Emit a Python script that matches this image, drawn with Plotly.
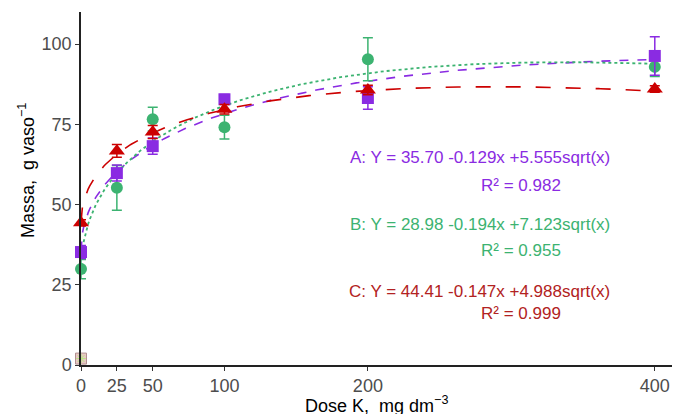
import numpy as np
import plotly.graph_objects as go

doses = [0, 25, 50, 100, 200, 400]
mass_A = [35.2, 59.8, 68.2, 82.8, 83.2, 96.3]
err_A = [2.0, 2.5, 2.5, 1.5, 3.5, 6.0]
mass_B = [29.9, 55.2, 76.6, 74.1, 95.3, 92.9]
err_B = [3.0, 7.0, 3.7, 3.7, 6.7, 3.0]
mass_C = [44.3, 66.7, 72.6, 79.7, 85.7, 86.0]
err_C = [1.0, 2.0, 2.0, 1.5, 1.5, 1.0]

# fitted model coefficients: Y = b0 + b1*x + b2*sqrt(x)
coef_A = [35.70, -0.129, 5.555]
coef_B = [28.98, -0.194, 7.123]
coef_C = [44.41, -0.147, 4.988]
r2 = {"A": 0.982, "B": 0.955, "C": 0.999}

x_title = "Dose K,  mg dm<sup>−3</sup>"
y_title = "Massa,  g vaso<sup>−1</sup>"

col_A = "#8A2BE2"
col_B = "#3CB371"
col_C = "#CC0000"
col_Ct = "#B22222"

xs = np.linspace(0, 400, 401)

def fit(c):
    return c[0] + c[1] * xs + c[2] * np.sqrt(xs)

fig = go.Figure()
fig.add_trace(go.Scatter(x=xs, y=fit(coef_A), mode="lines",
                         line=dict(color=col_A, width=1.6, dash="dash"), showlegend=False))
fig.add_trace(go.Scatter(x=xs, y=fit(coef_B), mode="lines",
                         line=dict(color=col_B, width=1.8, dash="dot"), showlegend=False))
fig.add_trace(go.Scatter(x=xs, y=fit(coef_C), mode="lines",
                         line=dict(color=col_C, width=1.6, dash="longdash"), showlegend=False))

fig.add_trace(go.Scatter(x=doses, y=mass_B, mode="markers",
                         error_y=dict(type="data", array=err_B, color=col_B, thickness=1.5, width=5),
                         marker=dict(symbol="circle", size=12, color=col_B),
                         cliponaxis=False, showlegend=False))
fig.add_trace(go.Scatter(x=doses, y=mass_A, mode="markers",
                         error_y=dict(type="data", array=err_A, color=col_A, thickness=1.5, width=5),
                         marker=dict(symbol="square", size=12, color=col_A),
                         cliponaxis=False, showlegend=False))
fig.add_trace(go.Scatter(x=doses, y=mass_C, mode="markers",
                         error_y=dict(type="data", array=err_C, color=col_C, thickness=1.5, width=5),
                         marker=dict(symbol="triangle-up", size=14, color=col_C),
                         cliponaxis=False, showlegend=False))

# small glyph at origin
fig.add_trace(go.Scatter(x=[0], y=[2], mode="markers",
                         marker=dict(symbol="square", size=11, color="#E8C8C4",
                                     line=dict(color="#B09090", width=1)),
                         cliponaxis=False, showlegend=False))
fig.add_trace(go.Scatter(x=[0], y=[2], mode="markers",
                         marker=dict(symbol="asterisk-open", size=8,
                                     line=dict(color="#333333", width=1)),
                         cliponaxis=False, showlegend=False))

ann_font = 17
anns = [
    (278, 64.8, "A: Y = %.2f %.3fx +%.3fsqrt(x)" % tuple(coef_A), col_A),
    (307, 56.0, "R² = %.3f" % r2["A"], col_A),
    (278, 43.9, "B: Y = %.2f %.3fx +%.3fsqrt(x)" % tuple(coef_B), col_B),
    (307, 35.8, "R² = %.3f" % r2["B"], col_B),
    (278, 23.0, "C: Y = %.2f %.3fx +%.3fsqrt(x)" % tuple(coef_C), col_Ct),
    (307, 16.2, "R² = %.3f" % r2["C"], col_Ct),
]
for x, y, t, c in anns:
    fig.add_annotation(x=x, y=y, text=t, showarrow=False, xanchor="center", yanchor="middle",
                       font=dict(family="Liberation Sans, Arial, sans-serif", size=ann_font, color=c))

# axis titles
fig.add_annotation(x=0.5, y=-0.113, xref="paper", yref="paper", text=x_title, showarrow=False,
                   xanchor="center", yanchor="middle", font=dict(size=18, color="black"))
fig.add_annotation(x=-0.091, y=0.55, xref="paper", yref="paper", text=y_title, showarrow=False,
                   textangle=-90, xanchor="center", yanchor="middle", font=dict(size=18, color="black"))

fig.update_layout(
    width=677, height=414,
    margin=dict(l=81, r=5, t=12, b=49, autoexpand=False),
    plot_bgcolor="white", paper_bgcolor="white",
    font=dict(family="Liberation Sans, Arial, sans-serif"),
)
fig.update_xaxes(
    range=[0, 412], tickvals=doses, ticktext=[str(d) for d in doses],
    showgrid=False, zeroline=False, showline=True, linecolor="#222222", linewidth=1.5,
    ticks="outside", ticklen=4, tickcolor="#333333", tickwidth=1,
    tickfont=dict(size=18, color="#4D4D4D"), automargin=False,
)
fig.update_yaxes(
    range=[0, 110], tickvals=[0, 25, 50, 75, 100],
    showgrid=False, zeroline=False, showline=True, linecolor="#222222", linewidth=1.5,
    ticks="outside", ticklen=4, tickcolor="#333333", tickwidth=1,
    tickfont=dict(size=18, color="#4D4D4D"), automargin=False,
)

fig.write_html("out.html", config={"displayModeBar": False},
               post_script="document.body.style.margin='0';document.body.style.overflow='hidden';")
